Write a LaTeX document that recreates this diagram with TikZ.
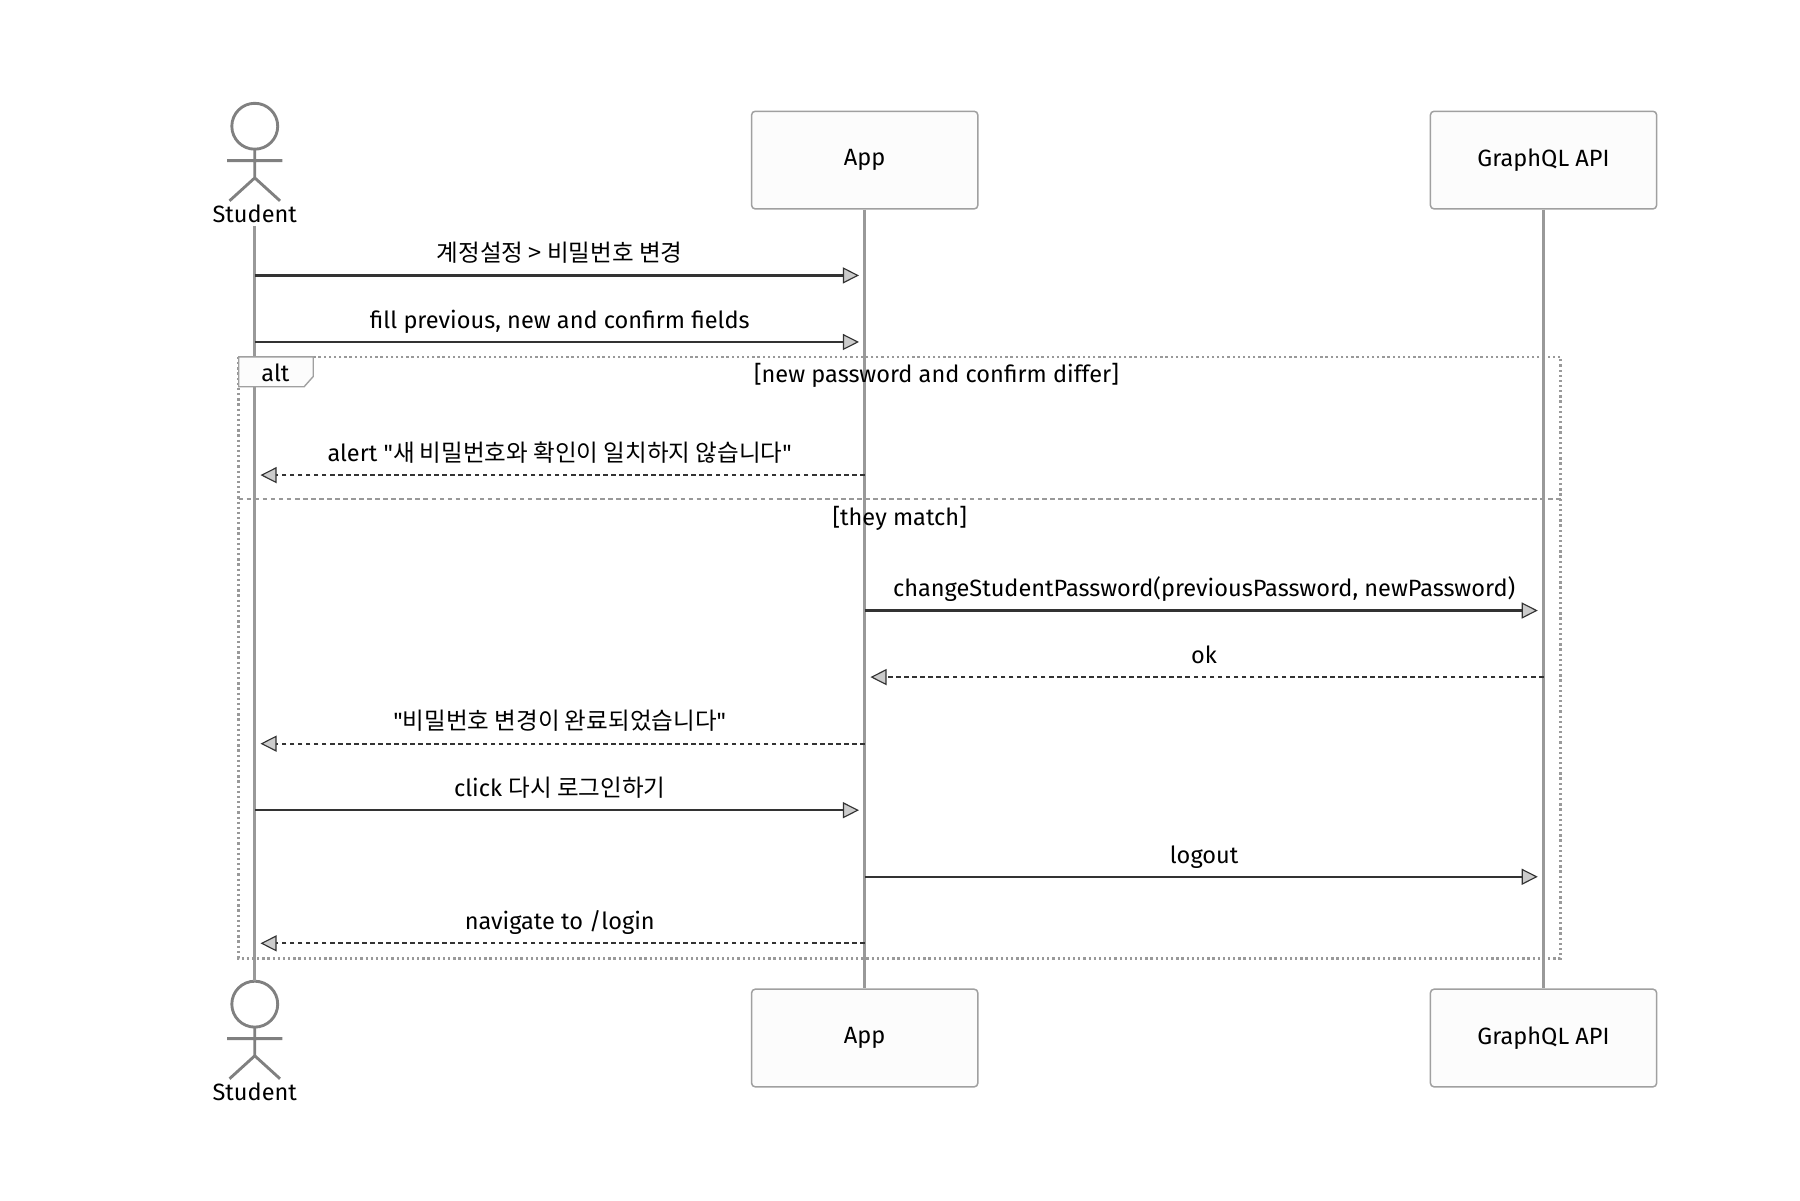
\documentclass[tikz,border=0pt]{standalone}
\usepackage{fontspec}
\setmainfont{Fira Sans}[Ligatures=TeXOff]
\newfontfamily\kr{Noto Sans CJK KR}[Ligatures=TeXOff]
\usetikzlibrary{arrows.meta}
\definecolor{lifegray}{HTML}{999999}
\definecolor{boxgray}{HTML}{A0A0A0}
\definecolor{msgblack}{HTML}{333333}

\begin{document}
\begin{tikzpicture}[x=1bp,y=-1bp,
	every node/.style={font=\fontsize{20.6}{23}\selectfont},
	box/.style={draw=boxgray, fill=black!1, rounded corners=3bp, line width=1.3bp, minimum width=197bp, minimum height=85bp},
	life/.style={draw=lifegray, line width=2.5bp},
	actor/.style={draw=black!50, line width=2.5bp},
	msg/.style={draw=msgblack, line width=2bp, shorten >=5bp, -{Triangle[length=14bp, width=14bp, fill=black!20, line width=1bp]}},
	reply/.style={msg, dash pattern=on 4bp off 3bp},
	lbl/.style={midway, anchor=base, yshift=12bp},
	frame/.style={draw=lifegray, line width=2.3bp, dash pattern=on 2bp off 2.5bp}]
					\useasboundingbox (0,0) rectangle (1568.5,1045.7);
					\node[box] (apptop) at (753.5,139.5) {App};
					\node[box] (gqltop) at (1345,139.5) {GraphQL API};
					\node[box] (appbot) at (753.5,904.5) {App};
					\node[box] (gqlbot) at (1345,904.5) {GraphQL API};
					\node (stutop) at (222,186) {Student};
					\node (stubot) at (222,951) {Student};
					\coordinate (stuend) at (222,855);
					\draw[actor] (222,110) circle[radius=20bp] (222,130) -- (222,155) (198,140) -- (246,140) (200,175) -- (222,155) -- (244,175);
					\draw[actor] (222,875) circle[radius=20bp] (222,895) -- (222,920) (198,905) -- (246,905) (200,940) -- (222,920) -- (244,940);
					\draw[life] (stutop) -- (stuend);
					\draw[life] (apptop) -- (appbot);
					\draw[life] (gqltop) -- (gqlbot);
					\draw[frame] (208,311) rectangle (1360,835);
					\draw[draw=lifegray, line width=2bp, dash pattern=on 4bp off 3bp] (208,435) -- (1360,435);
					\draw[draw=boxgray, fill=black!1, line width=1.2bp] (208,311) -- (273,311) -- (273,328) -- (265,337) -- (208,337) -- cycle;
					\node (alt) at (240,325) {alt};
					\node (cond1) at (816,327) {[new password and confirm differ]};
					\node (cond2) at (784,452) {[they match]};
					\coordinate (m1) at (0,240);
					\coordinate (m2) at (0,298);
					\coordinate (m3) at (0,414);
					\coordinate (m4) at (0,532);
					\coordinate (m5) at (0,590);
					\coordinate (m6) at (0,648);
					\coordinate (m7) at (0,706);
					\coordinate (m8) at (0,764);
					\coordinate (m9) at (0,822);
					\draw[msg] (stutop |- m1) to node[lbl] {\kr 계정설정 > 비밀번호 변경} (apptop |- m1);
					\draw[msg] (stutop |- m2) to node[lbl] {fill previous, new and confirm fields} (apptop |- m2);
					\draw[reply] (apptop |- m3) to node[lbl] {alert "{\kr 새 비밀번호와 확인이 일치하지 않습니다}"} (stutop |- m3);
					\draw[msg] (apptop |- m4) to node[lbl] {changeStudentPassword(previousPassword, newPassword)} (gqltop |- m4);
					\draw[reply] (gqltop |- m5) to node[lbl] {ok} (apptop |- m5);
					\draw[reply] (apptop |- m6) to node[lbl] {"{\kr 비밀번호 변경이 완료되었습니다}"} (stutop |- m6);
					\draw[msg] (stutop |- m7) to node[lbl] {click {\kr 다시 로그인하기}} (apptop |- m7);
					\draw[msg] (apptop |- m8) to node[lbl] {logout} (gqltop |- m8);
					\draw[reply] (apptop |- m9) to node[lbl] {navigate to /login} (stutop |- m9);
				\end{tikzpicture}
\end{document}
